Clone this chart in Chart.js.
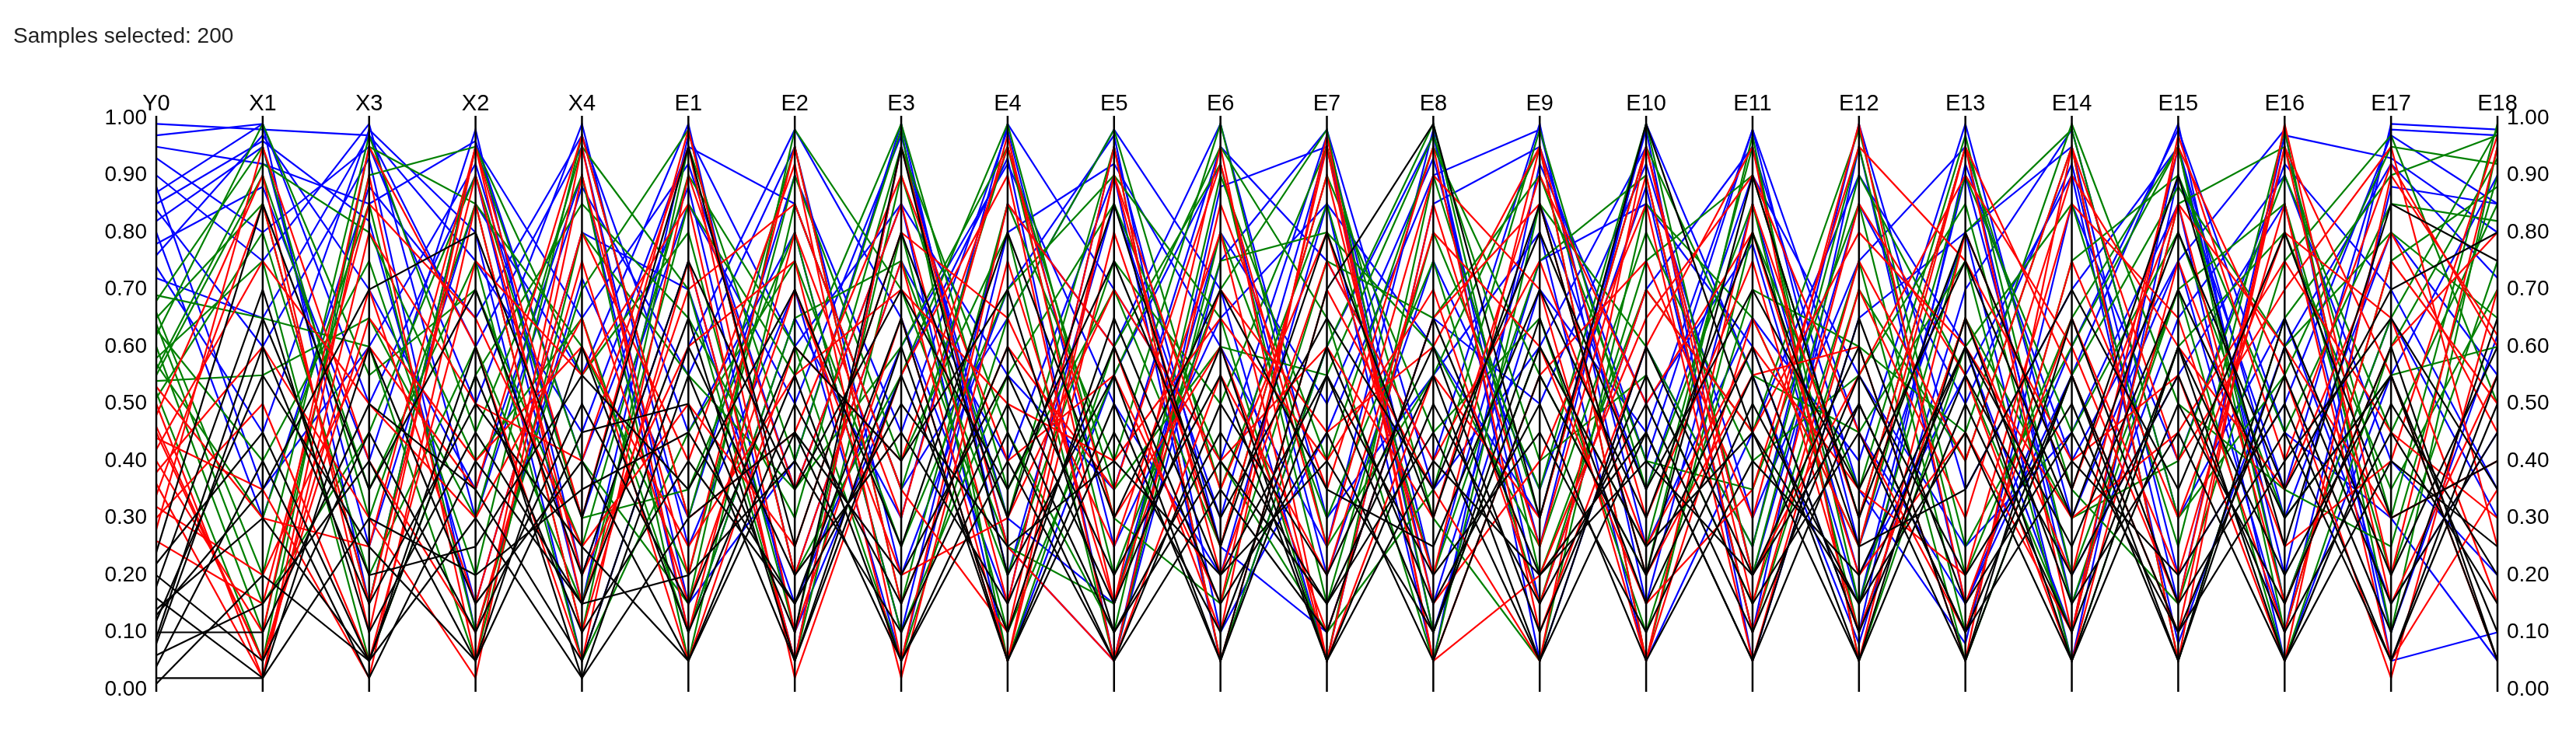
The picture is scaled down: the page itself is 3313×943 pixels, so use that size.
<!DOCTYPE html>
<html>
<head>
<meta charset="utf-8">
<script src="https://cdn.jsdelivr.net/npm/chart.js@4"></script>
<style>
  html, body { margin: 0; padding: 0; background: #fff; }
  #wrap { width: 3313px; height: 943px; }
</style>
</head>
<body>
<div id="wrap"><canvas id="c" width="3313" height="943"></canvas></div>
<script>
// axes of the parallel coordinates plot
const axisNames = ['Y0','X1','X3','X2','X4','E1','E2','E3','E4','E5','E6','E7','E8','E9','E10','E11','E12','E13','E14','E15','E16','E17','E18'];
const tickValues = [0,0.1,0.2,0.3,0.4,0.5,0.6,0.7,0.8,0.9,1.0];

// samples, grouped by colour class
const blueRows = [
  [.99,.98,.97,.60,.95,.15,.40,.99,.20,.85,.30,.95,.10,.70,.45,.98,.25,.80,.05,.90,.35,.98,.97],
  [.95,.92,.85,.96,.40,.88,.10,.55,.93,.05,.75,.98,.35,.60,.95,.20,.85,.50,.92,.15,.97,.93,.80],
  [.90,.75,.99,.30,.88,.55,.95,.20,.70,.97,.10,.45,.90,.98,.25,.65,.40,.99,.30,.75,.10,.88,.85],
  [.87,.99,.50,.90,.15,.97,.60,.85,.05,.55,.92,.20,.75,.35,.88,.10,.95,.15,.60,.98,.45,.30,.05],
  [.84,.60,.93,.10,.72,.30,.90,.45,.98,.25,.65,.85,.05,.92,.50,.78,.15,.90,.20,.55,.85,.10,.62],
  [.82,.95,.25,.85,.55,.99,.20,.75,.40,.90,.05,.60,.97,.15,.70,.95,.35,.08,.85,.40,.92,.70,.35],
  [.80,.30,.88,.65,.97,.45,.80,.10,.85,.60,.99,.30,.55,.80,.05,.45,.90,.60,.10,.95,.20,.99,.98],
  [.78,.88,.40,.98,.20,.75,.05,.95,.30,.15,.80,.50,.93,.25,.99,.55,.08,.70,.98,.30,.65,.15,.45],
  [.76,.97,.70,.35,.90,.10,.65,.30,.99,.70,.40,.97,.20,.85,.35,.90,.55,.25,.45,.85,.05,.55,.90],
  [.74,.45,.98,.80,.05,.60,.98,.65,.15,.95,.25,.10,.65,.50,.92,.30,.75,.95,.15,.65,.90,.40,.20],
  [.97,.99,.15,.95,.65,.92,.35,.85,.55,.35,.95,.75,.40,.99,.15,.85,.20,.55,.90,.08,.60,.92,.72],
  [.93,.80,.95,.50,.99,.25,.70,.05,.80,.92,.60,.25,.98,.05,.60,.25,.99,.35,.70,.95,.30,.80,.55],
  [.88,.35,.60,.92,.30,.85,.50,.97,.25,.05,.88,.95,.15,.75,.85,.60,.10,.92,.40,.75,.98,.05,.10],
  [.85,.96,.82,.15,.80,.70,.15,.60,.92,.50,.20,.85,.60,.30,.98,.05,.65,.80,.95,.20,.50,.97,.85],
  [.72,.65,.97,.75,.45,.95,.85,.35,.65,.98,.70,.05,.85,.95,.40,.98,.45,.15,.55,.99,.15,.65,.30]
];
const greenRows = [
  [.68,.95,.30,.85,.10,.95,.40,.98,.05,.60,.92,.15,.80,.35,.99,.20,.90,.55,.10,.85,.95,.30,.99],
  [.66,.20,.97,.45,.90,.05,.85,.35,.95,.20,.70,.98,.10,.60,.25,.95,.15,.80,.98,.30,.55,.95,.92],
  [.65,.85,.15,.95,.55,.80,.10,.90,.30,.95,.05,.60,.99,.20,.70,.45,.98,.25,.60,.95,.10,.75,.88],
  [.63,.40,.75,.20,.97,.30,.95,.15,.85,.40,.99,.25,.55,.95,.05,.80,.35,.97,.20,.70,.85,.20,.75],
  [.62,.99,.55,.70,.25,.90,.60,.05,.65,.98,.35,.85,.20,.75,.90,.10,.70,.40,.95,.05,.65,.90,.97],
  [.60,.10,.90,.95,.40,.15,.98,.70,.20,.75,.50,.95,.30,.05,.85,.65,.25,.90,.45,.80,.30,.55,.60],
  [.58,.75,.05,.55,.85,.65,.30,.95,.45,.10,.90,.40,.95,.55,.20,.97,.05,.60,.85,.25,.98,.10,.95],
  [.57,.30,.85,.10,.70,.98,.20,.55,.99,.30,.15,.75,.65,.90,.40,.35,.85,.10,.75,.90,.45,.85,.82],
  [.55,.90,.35,.75,.05,.45,.75,.25,.70,.90,.65,.05,.90,.30,.95,.55,.45,.75,.05,.60,.80,.35,.70],
  [.54,.55,.65,.30,.95,.70,.05,.80,.10,.55,.95,.65,.05,.85,.60,.25,.95,.20,.65,.95,.15,.65,.98],
  [.52,.05,.95,.85,.60,.20,.90,.40,.80,.05,.80,.30,.75,.15,.75,.90,.30,.95,.35,.15,.75,.97,.50],
  [.51,.80,.20,.60,.15,.85,.55,.99,.35,.70,.25,.90,.45,.65,.10,.70,.60,.45,.99,.50,.35,.25,.90],
  [.69,.65,.60,.05,.80,.55,.35,.60,.95,.35,.60,.55,.97,.40,.55,.15,.75,.05,.55,.88,.60,.80,.65],
  [.64,.15,.45,.90,.30,.35,.80,.10,.55,.85,.40,.10,.35,.98,.35,.85,.10,.65,.30,.40,.90,.45,.85],
  [.56,.92,.80,.40,.65,.10,.65,.75,.25,.15,.75,.80,.60,.25,.80,.40,.55,.85,.15,.70,.05,.60,.93]
];
const redRows = [
  [.50,.02,.90,.05,.95,.10,.80,.30,.97,.15,.95,.05,.85,.25,.90,.10,.75,.40,.95,.05,.99,.20,.95],
  [.48,.90,.10,.95,.30,.98,.20,.75,.05,.90,.35,.80,.20,.95,.05,.85,.30,.95,.10,.97,.40,.92,.60],
  [.46,.05,.70,.15,.80,.40,.92,.05,.85,.60,.10,.97,.05,.55,.75,.30,.99,.15,.65,.20,.85,.05,.35],
  [.44,.35,.02,.85,.10,.75,.05,.95,.25,.05,.85,.35,.95,.10,.60,.95,.05,.80,.35,.85,.15,.60,.80],
  [.42,.75,.50,.30,.65,.05,.60,.40,.95,.30,.60,.10,.65,.85,.20,.55,.60,.05,.95,.40,.70,.95,.25],
  [.40,.10,.95,.60,.05,.90,.35,.85,.15,.95,.05,.70,.35,.05,.95,.15,.85,.55,.05,.75,.25,.40,.97],
  [.38,.60,.30,.02,.90,.20,.95,.15,.60,.35,.92,.25,.90,.70,.05,.65,.25,.95,.55,.10,.95,.15,.55],
  [.36,.02,.80,.50,.40,.95,.10,.65,.05,.80,.25,.90,.15,.40,.85,.05,.70,.30,.90,.60,.35,.80,.45],
  [.34,.85,.15,.90,.20,.60,.75,.02,.75,.15,.70,.45,.60,.95,.30,.75,.10,.65,.20,.95,.55,.02,.70],
  [.32,.20,.60,.35,.97,.30,.45,.90,.40,.55,.15,.95,.05,.20,.65,.90,.45,.10,.75,.30,.80,.65,.15],
  [.30,.50,.05,.75,.55,.85,.02,.55,.90,.05,.55,.20,.80,.60,.15,.35,.95,.75,.40,.55,.05,.90,.62],
  [.28,.95,.40,.10,.75,.15,.70,.20,.30,.70,.40,.60,.30,.90,.50,.80,.20,.45,.10,.85,.60,.30,.40],
  [.26,.15,.85,.65,.25,.50,.25,.80,.65,.25,.80,.05,.55,.30,.95,.20,.55,.90,.60,.15,.95,.55,.05],
  [.53,.30,.25,.95,.15,.70,.85,.35,.10,.90,.20,.75,.40,.75,.25,.60,.35,.20,.85,.65,.10,.75,.50],
  [.45,.05,.65,.40,.60,.25,.55,.70,.50,.40,.65,.40,.70,.15,.70,.45,.80,.60,.30,.45,.75,.45,.30]
];
const blackRows = [
  [.22,.45,.05,.60,.02,.55,.10,.95,.20,.55,.05,.70,.99,.30,.99,.45,.15,.60,.25,.70,.30,.55,.10],
  [.20,.05,.45,.10,.50,.15,.60,.40,.70,.10,.40,.15,.55,.05,.60,.20,.50,.10,.55,.05,.60,.15,.45],
  [.18,.70,.10,.45,.15,.65,.05,.55,.10,.65,.20,.55,.10,.65,.15,.55,.05,.50,.10,.60,.05,.50,.20],
  [.16,.02,.60,.15,.40,.05,.45,.20,.55,.15,.60,.05,.40,.20,.45,.05,.65,.15,.45,.10,.55,.10,.65],
  [.14,.30,.05,.55,.10,.40,.15,.65,.05,.45,.10,.60,.15,.50,.05,.40,.20,.60,.05,.50,.15,.60,.05],
  [.12,.55,.25,.05,.60,.10,.55,.05,.40,.05,.50,.20,.60,.10,.55,.15,.45,.05,.65,.15,.45,.05,.55],
  [.10,.10,.50,.35,.05,.60,.20,.45,.15,.60,.15,.45,.05,.55,.20,.60,.10,.55,.20,.55,.10,.45,.15],
  [.08,.60,.15,.50,.25,.05,.50,.15,.60,.20,.55,.05,.50,.15,.50,.10,.55,.20,.50,.05,.65,.20,.60],
  [.06,.15,.40,.05,.45,.50,.05,.60,.05,.50,.05,.55,.20,.45,.10,.50,.15,.45,.05,.60,.20,.55,.05],
  [.04,.40,.02,.40,.15,.20,.40,.10,.50,.10,.45,.15,.45,.05,.45,.05,.50,.10,.40,.20,.50,.05,.50],
  [.02,.02,.30,.20,.35,.45,.15,.50,.25,.40,.20,.40,.10,.60,.25,.45,.05,.65,.15,.45,.05,.40,.25],
  [.01,.20,.05,.30,.02,.30,.45,.05,.45,.05,.35,.10,.65,.20,.40,.20,.60,.05,.55,.10,.40,.65,.35],
  [.24,.85,.35,.70,.20,.75,.35,.70,.35,.75,.30,.65,.35,.80,.35,.70,.35,.75,.30,.80,.35,.70,.80],
  [.09,.65,.20,.25,.55,.35,.70,.25,.80,.30,.70,.35,.25,.70,.30,.80,.25,.35,.70,.35,.80,.30,.40],
  [.13,.35,.70,.80,.30,.95,.25,.80,.30,.85,.25,.80,.30,.85,.20,.90,.30,.80,.35,.90,.25,.85,.75]
];

const groups = [
  { rows: blackRows, color: '#000000' },
  { rows: redRows, color: '#ff0000' },
  { rows: greenRows, color: '#008000' },
  { rows: blueRows, color: '#0000ff' }
];

const datasets = [];
groups.forEach(g => g.rows.forEach(r => datasets.push({
  data: r, borderColor: g.color, borderWidth: 2.2, pointRadius: 0, fill: false, tension: 0, yAxisID: 'y'
})));

const FONT = "'Liberation Sans', Arial, sans-serif";

// vertical axis bars, only over the 0..1 range
const axisBars = {
  id: 'axisBars',
  afterDatasetsDraw(chart) {
    const { ctx, scales: { x, y } } = chart;
    const top = y.getPixelForValue(1) - 3, bot = y.getPixelForValue(0) + 3;
    ctx.save();
    ctx.strokeStyle = '#000';
    ctx.lineWidth = 2.5;
    axisNames.forEach((n, i) => {
      const px = x.getPixelForValue(i);
      ctx.beginPath(); ctx.moveTo(px, top); ctx.lineTo(px, bot); ctx.stroke();
    });
    ctx.restore();
  }
};

const axisTitles = {
  id: 'axisTitles',
  afterDraw(chart) {
    const { ctx, scales: { x } } = chart;
    ctx.save();
    ctx.fillStyle = '#000';
    ctx.font = `29px ${FONT}`;
    ctx.textAlign = 'center';
    ctx.textBaseline = 'alphabetic';
    axisNames.forEach((n, i) => ctx.fillText(n, x.getPixelForValue(i), 142));
    ctx.textAlign = 'left';
    ctx.font = `28px ${FONT}`;
    ctx.fillStyle = '#222';
    ctx.fillText('Samples selected: 200', 17, 55);
    ctx.restore();
  }
};

const fmt = v => tickValues.includes(Math.round(v * 10) / 10) ? (+v).toFixed(2) : '';

new Chart(document.getElementById('c'), {
  type: 'line',
  data: { labels: axisNames, datasets },
  options: {
    responsive: false,
    animation: false,
    layout: { padding: { top: 152, bottom: 56, left: 0, right: 0 } },
    plugins: { legend: { display: false }, tooltip: { enabled: false } },
    scales: {
      x: {
        type: 'category',
        offset: false,
        ticks: { display: false },
        grid: { display: false },
        border: { display: false },
        afterFit: s => { s.height = 0; }
      },
      y: {
        position: 'left', min: 0, max: 1,
        ticks: { stepSize: 0.1, callback: fmt, color: '#000', font: { family: FONT, size: 28 }, padding: 4 },
        grid: { display: false },
        border: { display: false },
        afterFit: s => { s.width = 201; }
      },
      y2: {
        position: 'right', min: 0, max: 1,
        ticks: { stepSize: 0.1, callback: fmt, color: '#000', font: { family: FONT, size: 28 }, padding: 4 },
        grid: { display: false },
        border: { display: false },
        afterFit: s => { s.width = 101; }
      }
    }
  },
  plugins: [axisBars, axisTitles]
});
</script>
</body>
</html>
